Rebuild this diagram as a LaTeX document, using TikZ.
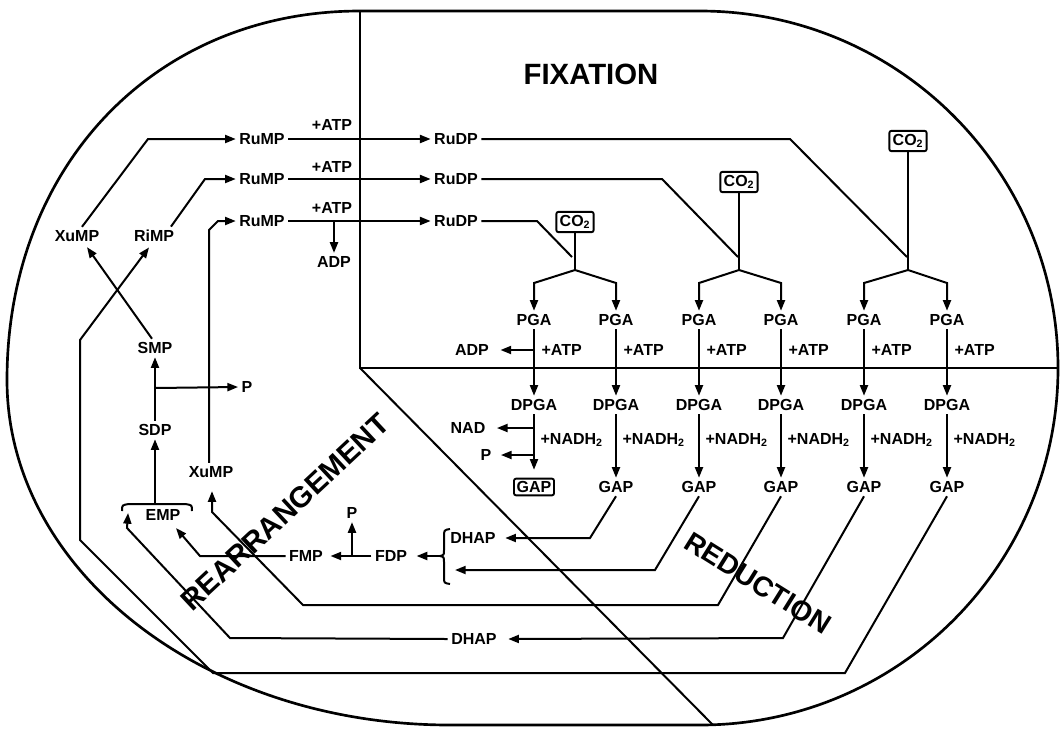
\documentclass[tikz,border=0pt]{standalone}
\usepackage{fontspec}
\setmainfont{Liberation Sans}
\usetikzlibrary{arrows.meta,calc}
\begin{document}
\begin{tikzpicture}[x=0.75pt,y=-0.75pt]
\tikzset{
 lbl/.style={font=\bfseries\fontsize{12}{12}\selectfont, inner sep=2.5pt},
 region/.style={font=\bfseries\fontsize{22}{22}\selectfont, inner sep=0pt},
 ln/.style={line width=1.5pt, line join=miter},
 arr/.style={ln, -{Triangle[length=8pt,width=6pt]}},
 outline/.style={line width=2pt},
 divider/.style={line width=1.5pt},
 boxed/.style={lbl, draw, line width=1.4pt, rounded corners=1.5pt, inner sep=2.5pt}
}
\useasboundingbox (0,0) rectangle (1062,729);
\fill[white] (0,0) rectangle (1062,729);

% outline
\draw[outline] (360,11) -- (700,11) .. controls (898,11) and (1058,171) .. (1058,368)
  .. controls (1058,565) and (898,725) .. (700,725) -- (450,725)
  .. controls (205,725) and (7,571) .. (7,380)
  .. controls (7,166) and (155,11) .. (360,11) -- cycle;
% dividers
\draw[divider] (360,11) -- (360,368) -- (1058,368);
\draw[divider] (360,368) -- (713,725);

% region labels
\node[region] (fix) at (591,74) {FIXATION};
\node[region, rotate=43] (rear) at (285,512) {REARRANGEMENT};
\node[region, rotate=-32, font=\bfseries\fontsize{21}{21}\selectfont] (red) at (758,583) {REDUCTION};

% top rows
\node[lbl] (rump1) at (262,139) {RuMP};
\node[lbl] (rump2) at (262,179) {RuMP};
\node[lbl] (rump3) at (262,221) {RuMP};
\node[lbl] (atp1) at (332,125) {+ATP};
\node[lbl] (atp2) at (332,167) {+ATP};
\node[lbl] (atp3) at (332,208) {+ATP};
\node[lbl] (rudp1) at (456,139) {RuDP};
\node[lbl] (rudp2) at (456,179) {RuDP};
\node[lbl] (rudp3) at (456,221) {RuDP};
\node[lbl] (adpU) at (334,262) {ADP};

% rearrangement nodes
\node[lbl] (xump1) at (77,236) {XuMP};
\node[lbl] (rimp) at (154,236) {RiMP};
\node[lbl] (smp) at (155,348) {SMP};
\node[lbl] (sdp) at (155,430) {SDP};
\node[lbl] (pS) at (247,387) {P};
\node[lbl] (emp) at (163,515) {EMP};
\node[lbl] (xump2) at (211,472) {XuMP};
\node[lbl] (fmp) at (306,556) {FMP};
\node[lbl] (fdp) at (391,556) {FDP};
\node[lbl] (pF) at (352,513) {P};
\node[lbl] (dhapU) at (473,538) {DHAP};
\node[lbl] (dhapL) at (474,639) {DHAP};

% CO2 boxes
\node[boxed] (co2a) at (575,222) {CO\textsubscript{2}};
\node[boxed] (co2b) at (739,182) {CO\textsubscript{2}};
\node[boxed] (co2c) at (908,141) {CO\textsubscript{2}};

% columns
\foreach \i/\c in {1/534,2/616,3/699,4/781,5/864,6/947}{
  \node[lbl] (pga\i) at (\c,320) {PGA};
  \node[lbl] (dpga\i) at (\c,405) {DPGA};
  \node[lbl, anchor=west] (atpr\i) at (\c+4,350) {+ATP};
  \node[lbl, anchor=west] (nadh\i) at (\c+3,440) {+NADH\textsubscript{2}};
  \draw[arr] (pga\i.south) -- (dpga\i.north);
}
\node[boxed, inner sep=2pt] (gap1) at (534,487) {GAP};
\foreach \i/\c in {2/616,3/699,4/781,5/864,6/947}{
  \node[lbl] (gap\i) at (\c,487) {GAP};
  \draw[arr] (dpga\i.south) -- (gap\i.north);
}
\node[lbl] (adpR) at (472,350) {ADP};
\node[lbl] (nad) at (468,428) {NAD};
\node[lbl] (pR) at (486,455) {P};

% fixation connectors
\draw[arr] (rump1.east) -- (rudp1.west);
\draw[arr] (rump2.east) -- (rudp2.west);
\draw[arr] (rump3.east) -- (rudp3.west);
\coordinate (ja) at (334,221);
\draw[arr] (ja) -- (adpU.north);

\draw[ln] (rudp1.east) -- (790,139) -- (907,257);
\draw[ln] (rudp2.east) -- (662,179) -- (738,257);
\draw[ln] (rudp3.east) -- (537,221) -- (572,257);
\coordinate (jA) at (575,270);
\coordinate (jB) at (739,270);
\coordinate (jC) at (908,270);
\draw[ln] (co2a.south) -- (jA);
\draw[ln] (co2b.south) -- (jB);
\draw[ln] (co2c.south) -- (jC);
\draw[arr] (jA) -- (534,283) -- (pga1.north);
\draw[arr] (jA) -- (616,283) -- (pga2.north);
\draw[arr] (jB) -- (699,283) -- (pga3.north);
\draw[arr] (jB) -- (781,283) -- (pga4.north);
\draw[arr] (jC) -- (864,283) -- (pga5.north);
\draw[arr] (jC) -- (947,283) -- (pga6.north);

% reduction side branches
\coordinate (jR) at (534,350);
\draw[arr] (jR) -- ($(adpR.east)+(8,0)$);
\draw[arr] (dpga1.south) -- ($(gap1.north)+(0,-8)$);
\coordinate (jN) at (534,428);
\coordinate (jP) at (534,455);
\draw[arr] (jN) -- ($(nad.east)+(8,0)$);
\draw[arr] (jP) -- ($(pR.east)+(6,0)$);

% rearrangement connectors
\draw[arr] ($(xump1.north)+(5,0)$) -- (148,139) -- (rump1.west);
\draw[arr] ($(rimp.north)+(17,0)$) -- (205,179) -- (rump2.west);
\draw[arr] ($(xump2.north)+(-2,0)$) -- (209,230) -- (218,221) -- (rump3.west);
\draw[arr] ($(smp.north)+(-3,0)$) -- ($(xump1.south)+(10,2)$);
\draw[arr] (gap6.south) -- (845,673) -- (213,673) -- (80,540) -- (80,340) -- ($(rimp.south)+(-5,2)$);
\draw[arr] (sdp.north) -- (smp.south);
\coordinate (jS) at (155,388);
\draw[arr] (jS) -- (pS.west);
\coordinate (bE) at (155,504);
\draw[arr] (bE) -- (sdp.south);
\draw[ln] (122,511) .. controls (122,505) .. (129,504) -- (185,504) .. controls (192,505) .. (192,511);
\draw[arr] (fmp.west) -- (200,556) -- ($(emp.south)+(13,4)$);
\draw[arr] (fdp.west) -- ($(fmp.east)+(4,0)$);
\coordinate (jF) at (352,556);
\draw[arr] (jF) -- (pF.south);
\draw[ln] (450,529) .. controls (444,530) .. (444,537) -- (444,550) .. controls (444,555) .. (440,556)
  .. controls (444,557) .. (444,562) -- (444,577) .. controls (444,583) .. (450,584);
\coordinate (bm) at (440,556);
\draw[arr] (bm) -- ($(fdp.east)+(6,0)$);
\draw[arr] (gap2.south) -- (590,538) -- ($(dhapU.east)+(6,0)$);
\coordinate (bL) at (455,570);
\draw[arr] (gap3.south) -- (655,570) -- (bL);
\draw[arr] (gap4.south) -- (718,605) -- (303,605) -- (212,512) -- ($(xump2.south)+(1,10)$);
\draw[arr] (gap5.south) -- (783,638) -- ($(dhapL.east)+(8,0)$);
\draw[arr] (dhapL.west) -- (230,638) -- (127,528) -- ($(emp.west)+(-14,-2)$);
\end{tikzpicture}
\end{document}
